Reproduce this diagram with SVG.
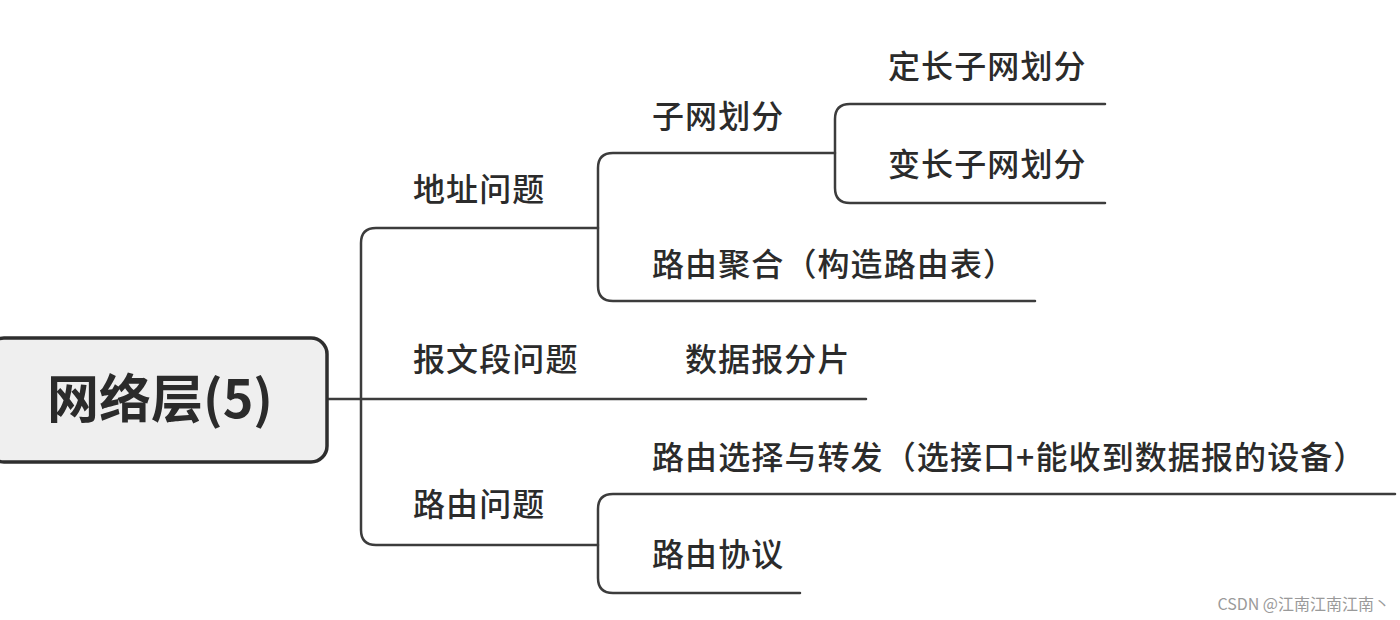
<svg xmlns="http://www.w3.org/2000/svg" width="1400" height="620" viewBox="0 0 1400 620">
<style>
.t{font-family:"Noto Sans CJK SC","Noto Sans",sans-serif;font-size:32px;fill:#2b2b2b;font-weight:500;letter-spacing:1.1px}
.c{fill:none;stroke:#3c3c3c;stroke-width:2.5;stroke-linecap:round}
</style>
<rect width="1400" height="620" fill="#ffffff"/>
<g id="connectors">
<path class="c" d="M328 399 H866"/>
<path class="c" d="M598 228 H376 Q361 228 361 243 V530 Q361 545 376 545 H598"/>
<path class="c" d="M835 153 H613 Q598 153 598 168 V286 Q598 301 613 301 H1035"/>
<path class="c" d="M1105 104 H850 Q835 104 835 119 V188 Q835 203 850 203 H1105"/>
<path class="c" d="M1395 494 H613 Q598 494 598 509 V578 Q598 593 613 593 H800"/>
</g>
<g id="root">
<rect x="-12" y="338" width="339" height="124" rx="16" fill="#efefef" stroke="#2e2e2e" stroke-width="3.5"/>
<text x="160" y="418" text-anchor="middle" font-family="Noto Sans CJK SC, sans-serif" font-size="52" font-weight="700" fill="#2b2b2b">网络层(5)</text>
</g>
<g id="n-addr"><text class="t" x="413" y="201">地址问题</text></g>
<g id="n-subnet"><text class="t" x="652" y="128">子网划分</text></g>
<g id="n-fixed"><text class="t" x="888" y="78">定长子网划分</text></g>
<g id="n-var"><text class="t" x="888" y="176">变长子网划分</text></g>
<g id="n-agg"><text class="t" x="652" y="276">路由聚合（构造路由表）</text></g>
<g id="n-seg"><text class="t" x="413" y="371">报文段问题</text></g>
<g id="n-frag"><text class="t" x="685" y="371">数据报分片</text></g>
<g id="n-route"><text class="t" x="413" y="516">路由问题</text></g>
<g id="n-select"><text class="t" x="652" y="469">路由选择与转发（选接口+能收到数据报的设备）</text></g>
<g id="n-proto"><text class="t" x="652" y="566">路由协议</text></g>
<text x="1390" y="610" text-anchor="end" font-family="Noto Sans CJK SC, sans-serif" font-size="16" fill="#9a9a9a">CSDN @江南江南江南丶</text>
</svg>
